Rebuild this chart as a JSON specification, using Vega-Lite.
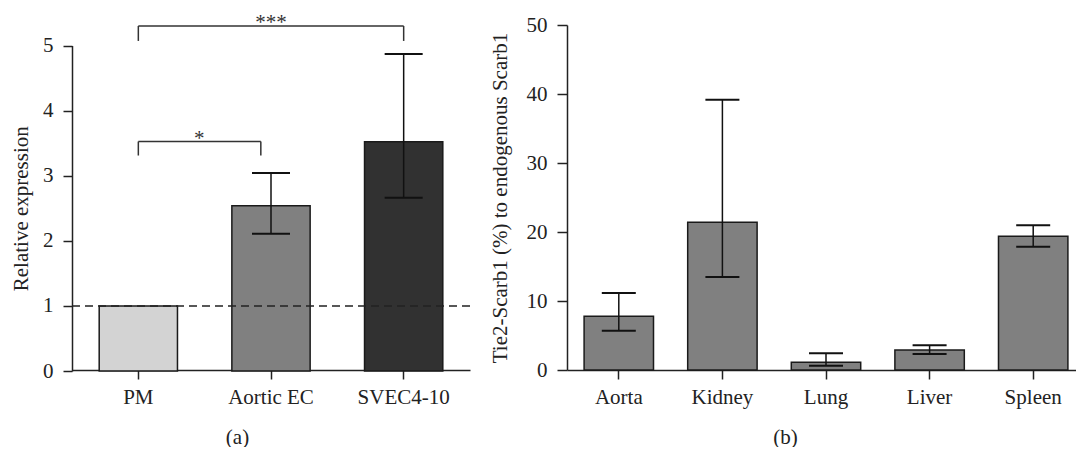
{
  "$schema": "https://vega.github.io/schema/vega-lite/v6.json",
  "background": "white",
  "padding": {"left": 10, "top": 11, "right": 0, "bottom": 0},
  "config": {
    "font": "Liberation Serif",
    "view": {"stroke": null},
    "axis": {
      "labelFont": "Liberation Serif",
      "titleFont": "Liberation Serif",
      "labelFontSize": 21,
      "titleFontSize": 21,
      "titleFontWeight": "normal",
      "labelColor": "#222222",
      "titleColor": "#222222",
      "domainColor": "#222222",
      "tickColor": "#222222",
      "domainWidth": 1.5,
      "tickWidth": 1.5,
      "tickSize": 9,
      "grid": false,
      "labelPadding": 9
    }
  },
  "datasets": {
    "a": [
      {"group": "PM", "value": 1.0},
      {"group": "Aortic EC", "value": 2.54},
      {"group": "SVEC4-10", "value": 3.52}
    ],
    "a_err": [
      {"group": "Aortic EC", "lo": 2.11, "hi": 3.04},
      {"group": "SVEC4-10", "lo": 2.66, "hi": 4.87}
    ],
    "a_ref": [{"ref": 1}],
    "a_brk3": [{"from": "PM", "to": "SVEC4-10", "y": 5.3}],
    "a_leg3": [
      {"g": "PM", "top": 5.3, "bot": 5.07},
      {"g": "SVEC4-10", "top": 5.3, "bot": 5.07}
    ],
    "a_brk1": [{"from": "PM", "to": "Aortic EC", "y": 3.525}],
    "a_leg1l": [{"g": "PM", "top": 3.525, "bot": 3.31}],
    "a_leg1r": [{"g": "Aortic EC", "top": 3.525, "bot": 3.31}],
    "a_sig3": [{"g": "Aortic EC", "y": 5.3, "label": "***"}],
    "a_sig1": [{"g": "PM", "y": 3.525, "label": "*"}],
    "b": [
      {"organ": "Aorta", "value": 7.78, "lo": 5.70, "hi": 11.16},
      {"organ": "Kidney", "value": 21.40, "lo": 13.48, "hi": 39.18},
      {"organ": "Lung", "value": 1.11, "lo": 0.63, "hi": 2.42},
      {"organ": "Liver", "value": 2.90, "lo": 2.32, "hi": 3.57},
      {"organ": "Spleen", "value": 19.37, "lo": 17.87, "hi": 20.97}
    ]
  },
  "bounds": "flush",
  "spacing": 97,
  "hconcat": [
    {
      "width": 398,
      "height": 345,
      "layer": [
        {
          "data": {"name": "a"},
          "mark": {"type": "bar", "stroke": "#1a1a1a", "strokeWidth": 1.5},
          "encoding": {
            "x": {
              "field": "group", "type": "nominal", "sort": ["PM", "Aortic EC", "SVEC4-10"],
              "scale": {"domain": ["PM", "Aortic EC", "SVEC4-10"], "paddingInner": 0.41, "paddingOuter": 0.205},
              "axis": {"labelAngle": 0, "title": "(a)", "titlePadding": 19, "titleX": 165, "labelPadding": 7}
            },
            "y": {
              "field": "value", "type": "quantitative",
              "scale": {"domain": [0, 5], "range": [346, 20.5], "nice": false, "clamp": false},
              "axis": {"values": [0, 1, 2, 3, 4, 5], "format": "d", "title": "Relative expression", "titlePadding": 11, "labelPadding": 10}
            },
            "color": {
              "field": "group", "type": "nominal",
              "scale": {"domain": ["PM", "Aortic EC", "SVEC4-10"], "range": ["#d3d3d3", "#808080", "#313131"]},
              "legend": null
            }
          }
        },
        {
          "data": {"name": "a_ref"},
          "mark": {"type": "rule", "strokeDash": [8, 5], "strokeWidth": 1.5, "color": "#222222"},
          "encoding": {"y": {"field": "ref", "type": "quantitative"}}
        },
        {
          "data": {"name": "a_err"},
          "mark": {"type": "rule", "strokeWidth": 1.5, "color": "#111111"},
          "encoding": {
            "x": {"field": "group", "type": "nominal"},
            "y": {"field": "lo", "type": "quantitative"},
            "y2": {"field": "hi"}
          }
        },
        {
          "data": {"name": "a_err"},
          "mark": {"type": "tick", "size": 38, "thickness": 2, "color": "#111111", "opacity": 1},
          "encoding": {
            "x": {"field": "group", "type": "nominal"},
            "y": {"field": "hi", "type": "quantitative"}
          }
        },
        {
          "data": {"name": "a_err"},
          "mark": {"type": "tick", "size": 38, "thickness": 2, "color": "#111111", "opacity": 1},
          "encoding": {
            "x": {"field": "group", "type": "nominal"},
            "y": {"field": "lo", "type": "quantitative"}
          }
        },
        {
          "data": {"name": "a_brk3"},
          "mark": {"type": "rule", "strokeWidth": 1.5, "color": "#333333"},
          "encoding": {
            "x": {"field": "from", "type": "nominal"},
            "x2": {"field": "to"},
            "y": {"field": "y", "type": "quantitative"}
          }
        },
        {
          "data": {"name": "a_leg3"},
          "mark": {"type": "rule", "strokeWidth": 1.5, "color": "#333333"},
          "encoding": {
            "x": {"field": "g", "type": "nominal"},
            "y": {"field": "top", "type": "quantitative"},
            "y2": {"field": "bot"}
          }
        },
        {
          "data": {"name": "a_brk1"},
          "mark": {"type": "rule", "strokeWidth": 1.5, "color": "#333333"},
          "encoding": {
            "x": {"field": "from", "type": "nominal"},
            "x2": {"field": "to", "bandPosition": 0.37},
            "y": {"field": "y", "type": "quantitative"}
          }
        },
        {
          "data": {"name": "a_leg1l"},
          "mark": {"type": "rule", "strokeWidth": 1.5, "color": "#333333"},
          "encoding": {
            "x": {"field": "g", "type": "nominal"},
            "y": {"field": "top", "type": "quantitative"},
            "y2": {"field": "bot"}
          }
        },
        {
          "data": {"name": "a_leg1r"},
          "mark": {"type": "rule", "strokeWidth": 1.5, "color": "#333333"},
          "encoding": {
            "x": {"field": "g", "type": "nominal", "bandPosition": 0.37},
            "y": {"field": "top", "type": "quantitative"},
            "y2": {"field": "bot"}
          }
        },
        {
          "data": {"name": "a_sig3"},
          "mark": {"type": "text", "font": "Liberation Serif", "fontSize": 21, "baseline": "alphabetic", "dy": 3, "color": "#333333"},
          "encoding": {
            "x": {"field": "g", "type": "nominal"},
            "y": {"field": "y", "type": "quantitative"},
            "text": {"field": "label"}
          }
        },
        {
          "data": {"name": "a_sig1"},
          "mark": {"type": "text", "font": "Liberation Serif", "fontSize": 21, "baseline": "alphabetic", "dy": 3, "dx": 61, "color": "#333333"},
          "encoding": {
            "x": {"field": "g", "type": "nominal"},
            "y": {"field": "y", "type": "quantitative"},
            "text": {"field": "label"}
          }
        }
      ]
    },
    {
      "width": 518,
      "height": 345,
      "data": {"name": "b"},
      "encoding": {
        "x": {
          "field": "organ", "type": "nominal", "sort": null,
          "scale": {"paddingInner": 0.33, "paddingOuter": 0.165},
          "axis": {"labelAngle": 0, "title": "(b)", "titlePadding": 19, "titleX": 218, "labelPadding": 7}
        }
      },
      "layer": [
        {
          "mark": {"type": "bar", "fill": "#808080", "stroke": "#1a1a1a", "strokeWidth": 1.5},
          "encoding": {
            "y": {
              "field": "value", "type": "quantitative",
              "scale": {"domain": [0, 50], "nice": false},
              "axis": {"values": [0, 10, 20, 30, 40, 50], "format": "d", "title": "Tie2-Scarb1 (%) to endogenous Scarb1", "titlePadding": 16, "labelPadding": 10, "tickSize": 10}
            }
          }
        },
        {
          "mark": {"type": "rule", "strokeWidth": 1.5, "color": "#111111"},
          "encoding": {
            "y": {"field": "lo", "type": "quantitative"},
            "y2": {"field": "hi"}
          }
        },
        {
          "mark": {"type": "tick", "size": 34, "thickness": 2, "color": "#111111", "opacity": 1},
          "encoding": {"y": {"field": "hi", "type": "quantitative"}}
        },
        {
          "mark": {"type": "tick", "size": 34, "thickness": 2, "color": "#111111", "opacity": 1},
          "encoding": {"y": {"field": "lo", "type": "quantitative"}}
        }
      ]
    }
  ]
}
